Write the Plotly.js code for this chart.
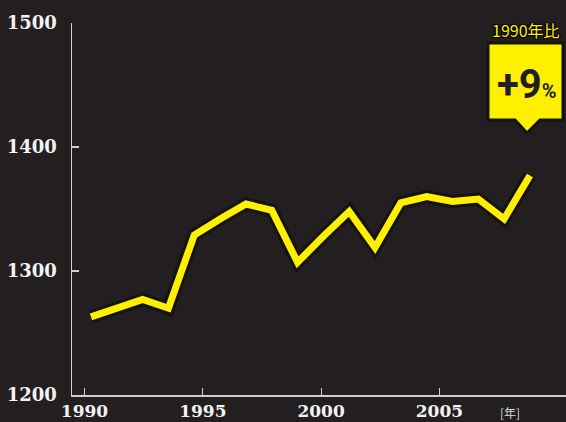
<!DOCTYPE html>
<html>
<head>
<meta charset="utf-8">
<script src="https://cdn.plot.ly/plotly-3.0.1.min.js"></script>
<style>html,body{margin:0;padding:0;background:#231f20;}#chart{width:566px;height:422px;}</style>
</head>
<body>
<div id="chart"></div>
<script>
// Data: yearly values 1990–2007
const years = [1990,1991,1992,1993,1994,1995,1996,1997,1998,1999,2000,2001,2002,2003,2004,2005,2006,2007];
const values = [1263,1270,1277,1270,1329,1342,1354,1349,1307,1328,1348,1319,1355,1360,1356,1358,1342,1377];
const yTicks = [1200,1300,1400,1500];
const xTicks = [1990,1995,2000,2005];
const xTickLabels = ['1990','1995','2000','2005'];

const BG = '#231f20';
const YELLOW = '#fff000';
const OUTLINE = '#15140a';
const AXIS = '#cfcfcf';

const traces = [
  {x: years, y: values, type: 'scatter', mode: 'lines', line: {color: OUTLINE, width: 13}, hoverinfo: 'skip'},
  {x: years, y: values, type: 'scatter', mode: 'lines', line: {color: YELLOW, width: 7}, hoverinfo: 'skip'},
  // invisible trace carrying the labelled year axis
  {x: [xTicks[0]], y: [yTicks[0]], xaxis: 'x2', type: 'scatter', mode: 'markers', marker: {opacity: 0}, hoverinfo: 'skip'}
];

const layout = {
  width: 566, height: 422,
  margin: {l: 72, r: 0, t: 23, b: 27},
  paper_bgcolor: BG, plot_bgcolor: BG,
  showlegend: false,
  xaxis: {range: [1989.264, 2008.396], visible: false, fixedrange: true},
  xaxis2: {
    overlaying: 'x', anchor: 'y', side: 'bottom',
    range: [1989.472, 2010.35],
    showline: true, linecolor: AXIS, linewidth: 1.5,
    showgrid: false, zeroline: false,
    ticks: 'inside', ticklen: 7, tickwidth: 1.2, tickcolor: AXIS,
    tickvals: xTicks, ticktext: xTickLabels,
    ticklabelstandoff: 0,
    tickfont: {family: 'DejaVu Serif', size: 17, color: '#f2f2f2', weight: 'bold'}
  },
  yaxis: {
    range: [1200, 1500],
    showline: true, linecolor: AXIS, linewidth: 1.5,
    showgrid: false, zeroline: false,
    ticks: 'inside', ticklen: 7, tickwidth: 1.2, tickcolor: AXIS,
    tickvals: yTicks,
    ticklabelstandoff: 10,
    tickfont: {family: 'DejaVu Serif', size: 18, color: '#f2f2f2', weight: 'bold'}
  },
  shapes: [
    {type: 'path', xref: 'paper', yref: 'paper',
     path: 'M 0.8421 0.9462 L 0.9939 0.9462 L 0.9939 0.7392 L 0.9474 0.7392 L 0.9211 0.7043 L 0.8968 0.7392 L 0.8421 0.7392 Z',
     fillcolor: YELLOW, line: {color: OUTLINE, width: 3}, layer: 'above'}
  ],
  annotations: [
    {text: '1990年比', xref: 'paper', yref: 'paper', x: 0.919, y: 0.981, showarrow: false,
     xanchor: 'center', yanchor: 'middle',
     font: {family: 'Noto Sans CJK JP', size: 16, color: YELLOW,
            shadow: '1px 1px 1px #000, -1px -1px 1px #000, 1px -1px 1px #000, -1px 1px 1px #000'}},
    {text: '+9<span style="font-size:20px">%</span>', xref: 'paper', yref: 'paper', x: 0.922, y: 0.835,
     showarrow: false, xanchor: 'center', yanchor: 'middle',
     font: {family: 'Roboto', size: 40, color: BG, weight: 'bold'}},
    {text: '[年]', xref: 'paper', yref: 'paper', x: 0.8866, y: -0.046, showarrow: false,
     xanchor: 'center', yanchor: 'middle',
     font: {family: 'Noto Sans CJK JP', size: 12, color: '#d8d8d8'}}
  ]
};

Plotly.newPlot('chart', traces, layout, {staticPlot: true, displayModeBar: false});
</script>
</body>
</html>
